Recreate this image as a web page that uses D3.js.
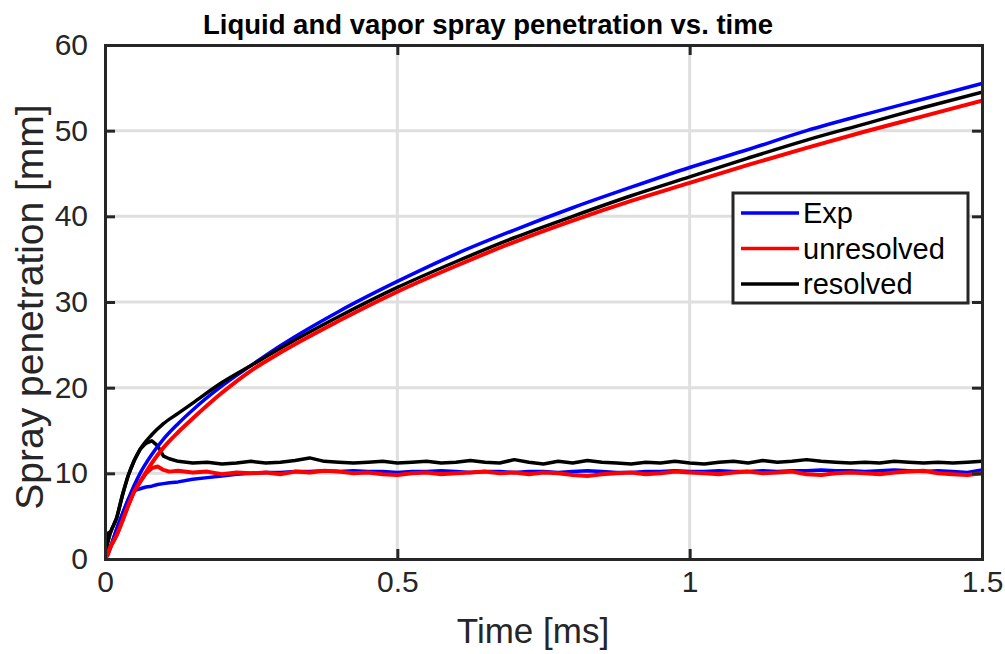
<!DOCTYPE html>
<html>
<head>
<meta charset="utf-8">
<script src="https://cdn.jsdelivr.net/npm/d3@7"></script>
<style>
  html, body { margin: 0; padding: 0; background: #fff; }
  svg { display: block; font-family: 'Liberation Sans', Arial, Helvetica, sans-serif; }
</style>
</head>
<body>
<svg id="chart" width="1005" height="654"></svg>
<script>
// vapor penetration, sampled at these times [ms]
const vaporTime = [0, 0.01, 0.02, 0.03, 0.04, 0.05, 0.06, 0.08, 0.1, 0.125, 0.15, 0.2, 0.25, 0.3,
  0.4, 0.5, 0.6, 0.7, 0.8, 0.9, 1.0, 1.1, 1.2, 1.3, 1.4, 1.5]
const vaporExp = [0, 1.5, 3.5, 5.3, 7.0, 8.6, 10.0, 12.2, 14.0, 15.8, 17.4, 20.2, 22.6, 24.9,
  28.9, 32.4, 35.6, 38.4, 41.0, 43.4, 45.7, 47.8, 50.0, 51.9, 53.7, 55.5]
const vaporUnres = [0, 1.5, 2.8, 4.5, 6.3, 7.9, 9.0, 11.2, 13.0, 14.8, 16.4, 19.4, 22.0, 24.1,
  27.8, 31.2, 34.2, 37.0, 39.5, 41.8, 43.9, 46.0, 48.0, 49.9, 51.7, 53.5]
const vaporRes = [0.5, 3.2, 4.8, 7.5, 9.8, 11.5, 12.8, 14.5, 15.8, 17.0, 18.2, 20.6, 22.6, 24.6,
  28.3, 31.7, 34.7, 37.5, 40.0, 42.4, 44.6, 46.8, 48.9, 50.8, 52.7, 54.5]

// liquid length, sampled at these times [ms]
const liquidTime = [0, 0.005, 0.01, 0.02, 0.03, 0.04, 0.05, 0.06, 0.07, 0.08, 0.09, 0.1, 0.11, 0.125,
  0.15, 0.175, 0.2, 0.225, 0.25, 0.275, 0.3, 0.325, 0.35, 0.375,
  0.4, 0.425, 0.45, 0.475, 0.5, 0.525, 0.55, 0.575, 0.6, 0.625,
  0.65, 0.675, 0.7, 0.725, 0.75, 0.775, 0.8, 0.825, 0.85, 0.875,
  0.9, 0.925, 0.95, 0.975, 1.0, 1.025, 1.05, 1.075, 1.1, 1.125,
  1.15, 1.175, 1.2, 1.225, 1.25, 1.275, 1.3, 1.325, 1.35, 1.375,
  1.4, 1.425, 1.45, 1.475, 1.5]
const liquidExp = [0, 0.6, 1.5, 3.5, 5.3, 7.0, 8.0, 8.2, 8.4, 8.5, 8.7, 8.8, 8.9, 9.0,
  9.3, 9.5, 9.7, 9.9, 10.0, 10.1, 10.1, 10.2, 10.2, 10.3,
  10.2, 10.3, 10.2, 10.2, 10.1, 10.2, 10.2, 10.3, 10.2, 10.1,
  10.2, 10.2, 10.1, 10.2, 10.2, 10.1, 10.2, 10.3, 10.2, 10.1,
  10.1, 10.2, 10.2, 10.3, 10.2, 10.2, 10.3, 10.2, 10.2, 10.3,
  10.2, 10.3, 10.3, 10.4, 10.3, 10.3, 10.2, 10.3, 10.4, 10.3,
  10.2, 10.3, 10.2, 10.1, 10.4]
const liquidUnres = [0, 0.5, 1.5, 2.8, 4.5, 6.3, 7.9, 9.0, 10.0, 10.6, 10.8, 10.4, 10.2, 10.3,
  10.1, 10.2, 9.9, 10.1, 10.0, 10.1, 9.9, 10.2, 10.1, 10.3,
  10.2, 10.0, 10.1, 9.9, 9.8, 10.0, 10.1, 9.9, 10.0, 10.1,
  10.2, 10.0, 10.1, 9.9, 10.1, 10.0, 9.8, 9.7, 9.9, 10.0,
  10.1, 9.9, 10.0, 10.2, 10.1, 10.0, 9.9, 10.1, 10.2, 10.0,
  10.1, 10.2, 9.9, 9.8, 10.0, 10.1, 10.0, 9.9, 10.1, 10.2,
  10.3, 10.0, 9.9, 9.8, 10.0]
const liquidRes = [0.5, 3.0, 3.2, 4.8, 7.5, 9.8, 11.5, 12.8, 13.5, 13.8, 13.2, 12.0, 11.7, 11.4,
  11.2, 11.3, 11.1, 11.2, 11.4, 11.2, 11.3, 11.5, 11.8, 11.4,
  11.3, 11.2, 11.3, 11.4, 11.2, 11.3, 11.4, 11.2, 11.3, 11.5,
  11.3, 11.2, 11.6, 11.3, 11.1, 11.4, 11.2, 11.5, 11.3, 11.2,
  11.1, 11.3, 11.2, 11.4, 11.2, 11.1, 11.3, 11.4, 11.2, 11.5,
  11.3, 11.4, 11.6, 11.4, 11.3, 11.2, 11.3, 11.2, 11.4, 11.3,
  11.2, 11.3, 11.2, 11.3, 11.4]

const xTicks = [0, 0.5, 1, 1.5]
const yTicks = [0, 10, 20, 30, 40, 50, 60]
const seriesNames = ['Exp', 'unresolved', 'resolved']
const seriesColors = ['#0000ff', '#ff0000', '#000000']

const svg = d3.select('#chart')
const margin = { left: 105, right: 1005 - 982, top: 45, bottom: 654 - 559 }
const W = 1005 - margin.left - margin.right
const H = 654 - margin.top - margin.bottom
const axisColor = '#262626'

const x = d3.scaleLinear().domain([0, 1.5]).range([0, W])
const y = d3.scaleLinear().domain([0, 60]).range([H, 0])

const g = svg.append('g').attr('transform', `translate(${margin.left},${margin.top})`)

// grid
g.append('g').selectAll('line').data(xTicks.slice(1, -1)).join('line')
  .attr('x1', d => x(d)).attr('x2', d => x(d)).attr('y1', 0).attr('y2', H)
  .attr('stroke', '#dfdfdf').attr('stroke-width', 3)
g.append('g').selectAll('line').data(yTicks.slice(1, -1)).join('line')
  .attr('x1', 0).attr('x2', W).attr('y1', d => y(d)).attr('y2', d => y(d))
  .attr('stroke', '#dfdfdf').attr('stroke-width', 3)

g.append('clipPath').attr('id', 'clip')
  .append('rect').attr('x', 0).attr('y', 0).attr('width', W).attr('height', H)

const line = d3.line().x(d => x(d[0])).y(d => y(d[1]))
const zip = (t, v) => t.map((tt, i) => [tt, v[i]])

const series = [
  { t: liquidTime, v: liquidExp, c: seriesColors[0], w: 3.5 },
  { t: liquidTime, v: liquidUnres, c: seriesColors[1], w: 4 },
  { t: liquidTime, v: liquidRes, c: seriesColors[2], w: 3.5 },
  { t: vaporTime, v: vaporExp, c: seriesColors[0], w: 3.5 },
  { t: vaporTime, v: vaporRes, c: seriesColors[2], w: 3.5 },
  { t: vaporTime, v: vaporUnres, c: seriesColors[1], w: 4 },
]

const lines = g.append('g').attr('clip-path', 'url(#clip)')
series.forEach(s => {
  lines.append('path')
    .datum(zip(s.t, s.v))
    .attr('d', line.curve(s.t === vaporTime ? d3.curveMonotoneX : d3.curveLinear))
    .attr('fill', 'none')
    .attr('stroke', s.c)
    .attr('stroke-width', s.w)
    .attr('stroke-linejoin', 'round')
})

// axes: inward ticks on all four sides, box on
const tickLen = 10
const xAxisB = d3.axisBottom(x).tickValues(xTicks).tickSize(-tickLen).tickPadding(12).tickFormat(d3.format('~g'))
const xAxisT = d3.axisTop(x).tickValues(xTicks).tickSize(-tickLen).tickFormat('')
const yAxisL = d3.axisLeft(y).tickValues(yTicks).tickSize(-tickLen).tickPadding(17)
const yAxisR = d3.axisRight(y).tickValues(yTicks).tickSize(-tickLen).tickFormat('')

function styleAxis(sel) {
  sel.select('.domain').attr('stroke', axisColor).attr('stroke-width', 3)
  sel.selectAll('.tick line').attr('stroke', axisColor).attr('stroke-width', 3)
  sel.selectAll('.tick text').attr('fill', axisColor).attr('font-size', 30)
    .attr('font-family', "'Liberation Sans', Arial, sans-serif")
}
g.append('g').attr('transform', `translate(0,${H})`).call(xAxisB).call(styleAxis)
g.append('g').call(xAxisT).call(styleAxis)
g.append('g').call(yAxisL).call(styleAxis)
g.append('g').attr('transform', `translate(${W},0)`).call(yAxisR).call(styleAxis)
g.selectAll('.domain').attr('stroke-linecap', 'square')

// labels
svg.append('text')
  .attr('x', 533).attr('y', 643)
  .attr('text-anchor', 'middle').attr('font-size', 35).attr('fill', axisColor)
  .text('Time [ms]')
svg.append('text')
  .attr('transform', `translate(43,307) rotate(-90)`)
  .attr('text-anchor', 'middle').attr('font-size', 39).attr('fill', axisColor)
  .text('Spray penetration [mm]')
svg.append('text')
  .attr('x', 488).attr('y', 34)
  .attr('text-anchor', 'middle').attr('font-size', 27.5).attr('font-weight', 'bold').attr('fill', '#000')
  .text('Liquid and vapor spray penetration vs. time')

// legend
const leg = svg.append('g').attr('transform', 'translate(733,193)')
leg.append('rect').attr('width', 235).attr('height', 110)
  .attr('fill', '#fff').attr('stroke', axisColor).attr('stroke-width', 3)
seriesNames.forEach((name, i) => {
  const cy = 20 + i * 35.5
  leg.append('line').attr('x1', 8).attr('x2', 66).attr('y1', cy).attr('y2', cy)
    .attr('stroke', seriesColors[i]).attr('stroke-width', 3.5)
  leg.append('text').attr('x', 70).attr('y', cy + 10)
    .attr('font-size', 29).attr('fill', '#000').text(name)
})
</script>
</body>
</html>
